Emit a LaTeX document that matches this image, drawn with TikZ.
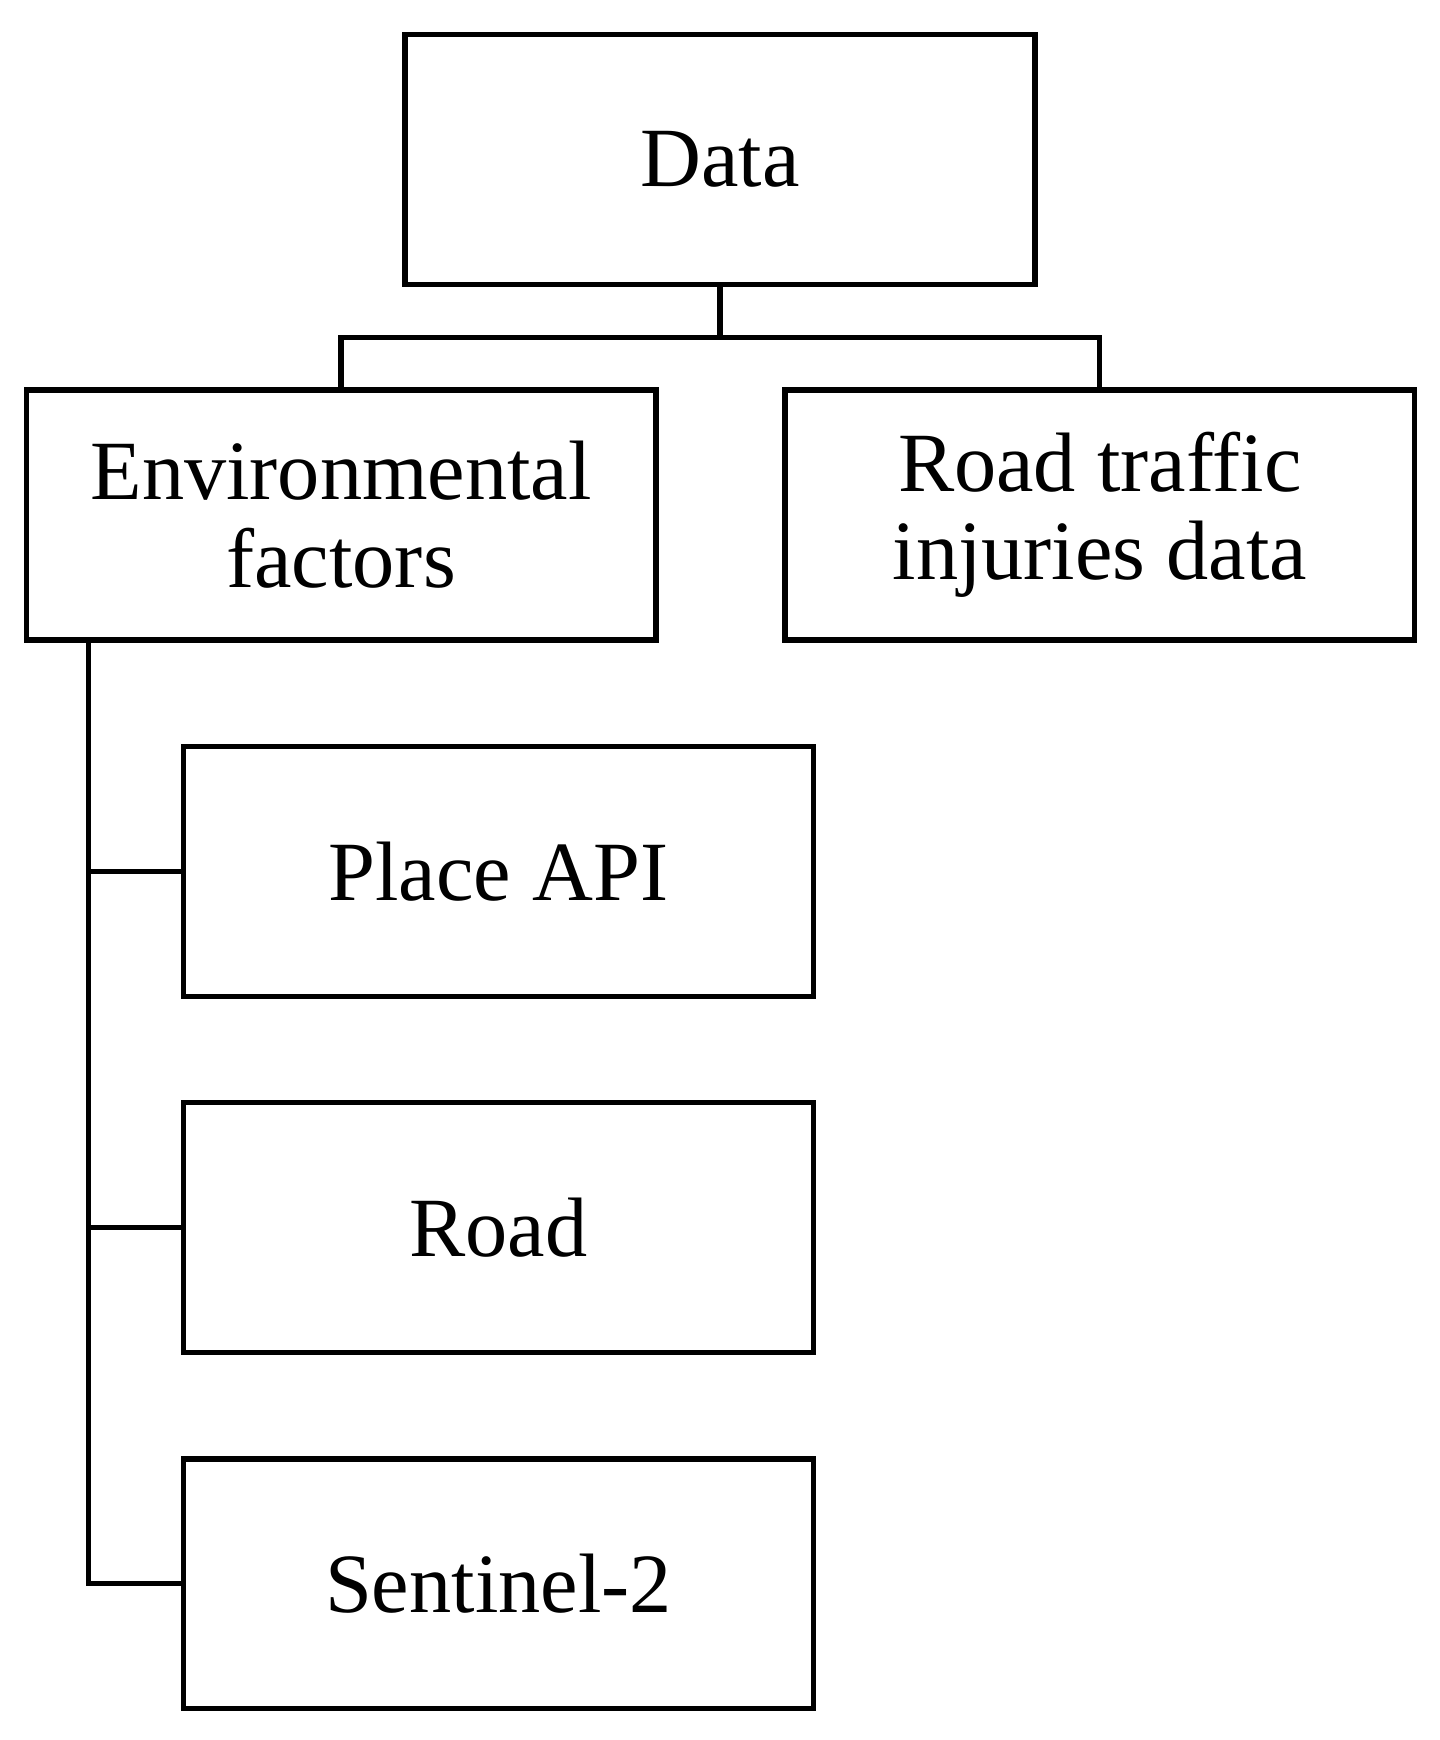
\documentclass[tikz,border=0pt]{standalone}
\usepackage{fontspec}
\setmainfont{Liberation Serif}
\usetikzlibrary{positioning}

\begin{document}
\begin{tikzpicture}[x=0.011077cm, y=-0.011077cm, -, line width=1.5pt,
                    box/.style = {draw, line width=1.5pt, minimum width=6.3cm, minimum height=2.5cm,
                                  align=center, font=\fontsize{24}{25}\selectfont, inner sep=0pt}]
\useasboundingbox (0,0) rectangle (1300,1571);
    \node[box] (data)  at (650,144)  {Data};
\node[box] (env)   at (308,465)  {Environmental\\factors};
\node[box] (rti)   at (993,465)  {Road traffic\\injuries data};
\node[box] (place) at (450,787)  {Place API};
\node[box] (road)  at (450,1108) {Road};
\node[box] (sent)  at (450,1430) {Sentinel-2};
\coordinate (junc) at (650,305);
\coordinate (trunk) at (80,1430);
    \draw (data.south) -- (junc) -| (env.north);
\draw (junc) -| (rti.north);
\draw (env.south -| trunk) -- (trunk) -- (sent.west);
\draw (place.west) -- (place.west -| trunk);
\draw (road.west) -- (road.west -| trunk);
\end{tikzpicture}
\end{document}
